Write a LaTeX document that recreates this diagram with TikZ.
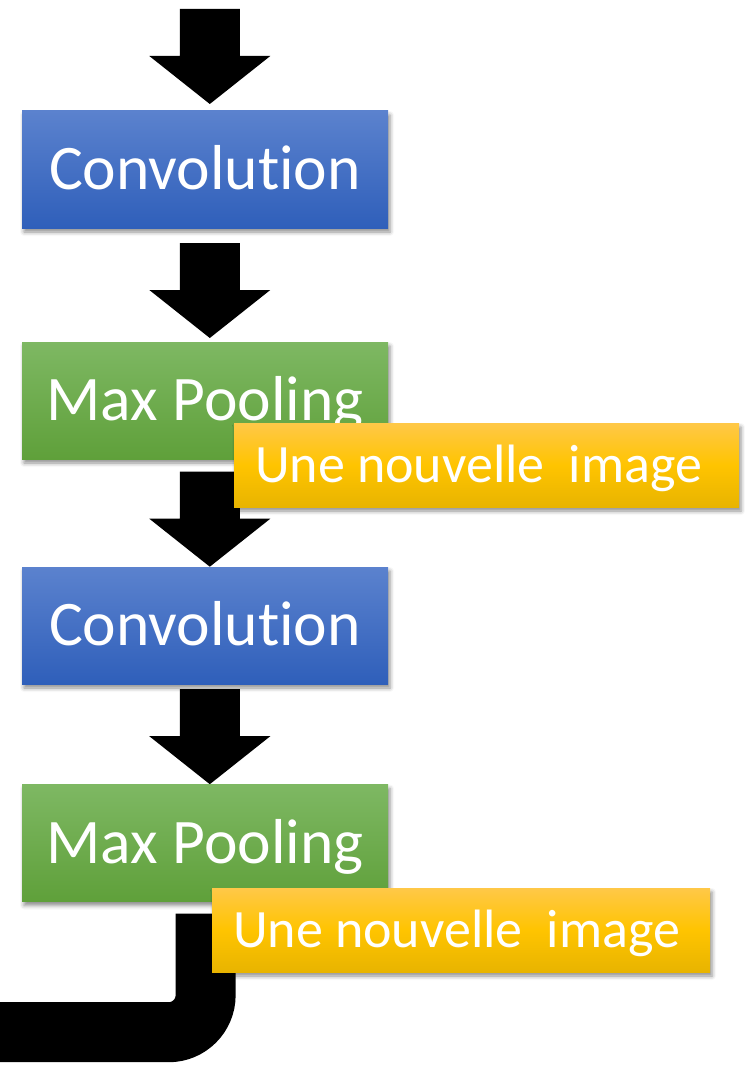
\documentclass[tikz,border=0pt]{standalone}
\usepackage{fontspec}
\setmainfont{Carlito}[Ligatures={NoCommon}]
\usetikzlibrary{calc,shadows.blur}
\definecolor{bluetop}{HTML}{5B82CE}
\definecolor{bluebot}{HTML}{2F5FBA}
\definecolor{greentop}{HTML}{7EB863}
\definecolor{greenbot}{HTML}{5FA03A}
\definecolor{goldtop}{HTML}{FFC848}
\definecolor{goldmid}{HTML}{FFC400}
\definecolor{goldbot}{HTML}{E8B400}
\tikzset{
  boxshadow/.style={blur shadow={shadow xshift=2pt, shadow yshift=-4pt, shadow blur radius=4pt, shadow opacity=45}},
  stage/.style={rectangle, minimum width=366pt, minimum height=117pt, inner sep=0pt,
    text=white, font=\fontsize{63.5}{76}\selectfont, text height=40pt, text depth=0pt, boxshadow},
  convbox/.style={stage, top color=bluetop, bottom color=bluebot},
  poolbox/.style={stage, top color=greentop, bottom color=greenbot},
  notebox/.style={rectangle, minimum height=84pt, inner xsep=21pt, inner ysep=0pt,
    text=white, font=\fontsize{54}{64}\selectfont, text height=34pt, text depth=0pt,
    top color=goldtop, bottom color=goldbot, middle color=goldmid, boxshadow},
  blockarrow/.pic={
    \fill[black] (-30,-95) -- (30,-95) -- (30,-48) -- (60.5,-48) -- (0,0) -- (-60.5,-48) -- (-30,-48) -- cycle;
  }
}
\newcommand{\notetext}[1]{\makebox[#1][l]{Une nouvelle\hspace{0.45em}image}}
\begin{document}
\begin{tikzpicture}[x=1pt,y=-1pt]
\useasboundingbox (0,0) rectangle (744,1070);
% node centres
\coordinate (c1c) at (205,169.5);
\coordinate (p1c) at (205,400.5);
\coordinate (c2c) at (205,625.5);
\coordinate (p2c) at (205,843);
% arrows drawn below boxes
\coordinate (a1tip) at ($(c1c)+(4.8,-65.5)$);
\pic at (a1tip) {blockarrow};
\coordinate (a2tip) at ($(p1c)+(4.8,-62.5)$);
\pic at (a2tip) {blockarrow};
\coordinate (a3tip) at ($(c2c)+(4.8,-58.8)$);
\pic at (a3tip) {blockarrow};
\coordinate (a4tip) at ($(p2c)+(4.8,-58.8)$);
\pic at (a4tip) {blockarrow};
% boxes
\node[convbox] (conv1) at (c1c) {Convolution};
\node[poolbox] (pool1) at (p1c) {Max Pooling};
\node[convbox] (conv2) at (c2c) {Convolution};
\node[poolbox] (pool2) at (p2c) {Max Pooling};
% bent output arrow
\coordinate (outend) at (-5,1032.2);
\draw[line width=60pt, rounded corners=37pt] ($(pool2.south)+(0.6,12)$) |- (outend);
% notes
\node[notebox, minimum width=505pt] (note1) at (486.5,465) {\notetext{463pt}};
\node[notebox, minimum width=498pt] (note2) at (461,930) {\notetext{456pt}};
\end{tikzpicture}
\end{document}
